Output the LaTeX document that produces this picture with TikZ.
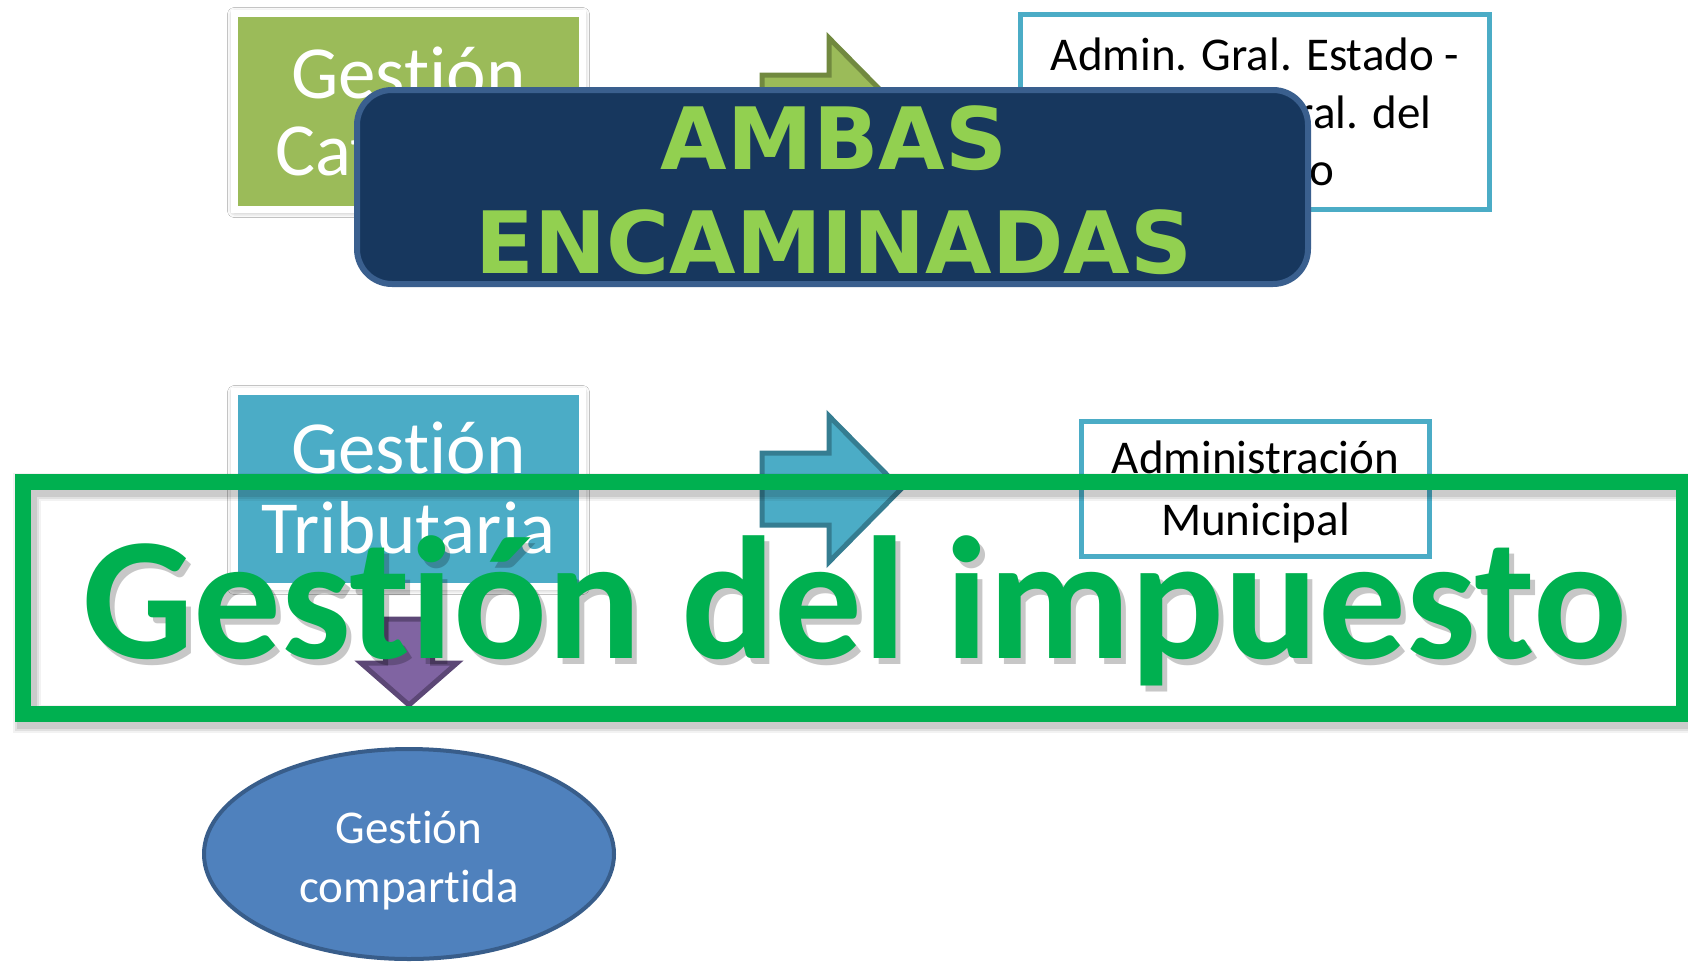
\documentclass[tikz,border=0pt]{standalone}
\usepackage{fontspec}
\setmainfont{Carlito}[Ligatures=NoCommon]
\newfontfamily\ambasfont{DejaVu Sans}
\usetikzlibrary{shapes.geometric,shadows.blur}
\definecolor{catgreen}{HTML}{9BBB59}
\definecolor{catgreenD}{HTML}{71893F}
\definecolor{tribblue}{HTML}{4BACC6}
\definecolor{tribblueD}{HTML}{357D91}
\definecolor{navy}{HTML}{17375E}
\definecolor{navyB}{HTML}{3A5F8E}
\definecolor{ambasgreen}{HTML}{92D050}
\definecolor{purp}{HTML}{8064A2}
\definecolor{purpD}{HTML}{5C4776}
\definecolor{ellblue}{HTML}{4F81BD}
\definecolor{ellblueD}{HTML}{385D8A}
\definecolor{framegreen}{HTML}{00B050}
\begin{document}
\begin{tikzpicture}[x=1pt,y=-1pt,
  wbox/.style={draw=white, line width=7pt, fill=#1, minimum width=348pt, minimum height=196pt, inner sep=0pt,
    blur shadow={shadow xshift=0pt, shadow yshift=-1pt, shadow blur radius=7pt, shadow opacity=45}},
  whitetxt/.style={anchor=base, inner sep=0pt, text=white, font=\fontsize{75pt}{80pt}\selectfont},
  adminbox/.style={draw=tribblue, line width=5pt, fill=white, inner sep=0pt},
  blacktxt/.style={anchor=base, inner sep=0pt, text=black, font=\fontsize{47pt}{52pt}\selectfont},
  ellitxt/.style={anchor=base, inner sep=0pt, text=white, font=\fontsize{47pt}{52pt}\selectfont},
  blockarrow/.style 2 args={fill=#1, draw=#2, line width=5pt, line join=miter},
  ambastxt/.style={anchor=base, inner sep=0pt, text=ambasgreen, font=\ambasfont\bfseries\fontsize{86pt}{90pt}\selectfont},
  bigtxt/.style={anchor=base, inner sep=0pt, font=\bfseries\fontsize{175pt}{180pt}\selectfont}
]
\useasboundingbox (0,0) rectangle (1688,961);
\fill[white] (0,0) rectangle (1688,961);

% ---------- top row ----------
\node[wbox=catgreen] (cat) at (408.5,111.5) {};
\node[whitetxt] (cat1) at (408.5,98) {Gestión};
\node[whitetxt] (cat2) at (408.5,175) {Catastral};

\draw[blockarrow={catgreen}{catgreenD}] (762,75) -- (829,75) -- (829,38) -- (901,111) -- (829,184) -- (829,147) -- (762,147) -- cycle;

\node[adminbox, minimum width=469pt, minimum height=195pt] (adm) at (1255,112) {};
\node[blacktxt] (adm1) at (1255,70) {Admin. Gral. Estado -};
\node[blacktxt] (adm2) at (1255,128) {Dirección Gral. del};
\node[blacktxt] (adm3) at (1255,185) {Catastro};

\node[draw=navyB, line width=6pt, fill=navy, rounded corners=35pt, minimum width=951pt, minimum height=194pt, inner sep=0pt] (amb) at (832.5,187) {};
\node[ambastxt] (amb1) at (834,169) {AMBAS};
\node[ambastxt] (amb2) at (834,273) {ENCAMINADAS};

% ---------- second row ----------
\node[wbox=tribblue, minimum height=195pt] (trib) at (408.5,489) {};
\node[whitetxt] (trib1) at (408.5,473) {Gestión};
\node[whitetxt] (trib2) at (408.5,553) {Tributaria};

\draw[blockarrow={tribblue}{tribblueD}] (762,453) -- (829,453) -- (829,416) -- (901,489) -- (829,562) -- (829,525) -- (762,525) -- cycle;

\node[adminbox, minimum width=348pt, minimum height=135pt] (mun) at (1255.5,489) {};
\node[blacktxt] (mun1) at (1255.5,473) {Administración};
\node[blacktxt] (mun2) at (1255.5,535) {Municipal};

\draw[blockarrow={purp}{purpD}] (385.5,619) -- (432.5,619) -- (432.5,663) -- (457,663) -- (409,705) -- (361,663) -- (385.5,663) -- cycle;

% ---------- ellipse ----------
\node[ellipse, draw=ellblueD, line width=4pt, fill=ellblue, minimum width=410pt, minimum height=210pt, inner sep=0pt] (ell) at (409,854) {};
\node[ellitxt] (ell1) at (409,843) {Gestión};
\node[ellitxt] (ell2) at (409,902) {compartida};

% ---------- overlay frame ----------
\foreach \w/\o in {28/0.05,24/0.07,20/0.09}{
  \draw[black, opacity=\o, line width=\w pt] (27,487) rectangle (1690,719);
}
\draw[framegreen, line width=16pt] (23,482) rectangle (1684,714);

\node[bigtxt, text=black, opacity=0.22] (impshadow) at (860,664) {Gestión del impuesto};
\node[bigtxt, text=framegreen] (imp) at (855,658) {Gestión del impuesto};
\end{tikzpicture}
\end{document}
